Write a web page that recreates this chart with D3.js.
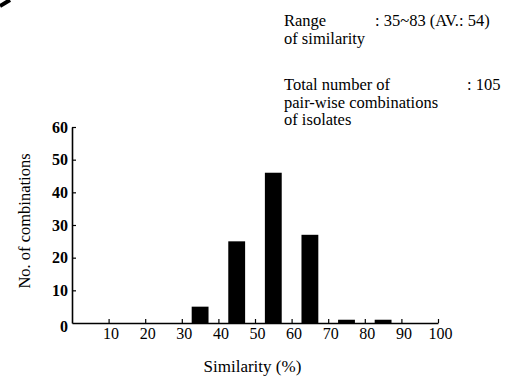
<!DOCTYPE html>
<html>
<head>
    <title>similarity histogram</title>
    <script src="https://d3js.org/d3.v7.min.js"></script>
    <style>
        body { margin: 0; background: #fff; }
        text { font-family: "Liberation Serif", "Times New Roman", serif; fill: #000; }
    </style>
</head>
<body>
    <svg id="chart"></svg>
    <script>
        // bins (centre of each 10% class) and counts
        var binCentres = [35, 45, 55, 65, 75, 85];
        var counts = [5, 25, 46, 27, 1, 1];
        var xTicks = [10, 20, 30, 40, 50, 60, 70, 80, 90, 100];
        var yTicks = [0, 10, 20, 30, 40, 50, 60];
        var notes = [
            { lines: ["Range", "of similarity"], value: ": 35~83 (AV.: 54)" },
            { lines: ["Total number of", "pair-wise combinations", "of isolates"], value: ": 105" }
        ];

        var width = 507, height = 383;
        var margin = {top: 127, right: 69, bottom: 60, left: 72};

        var svg = d3.select("#chart")
            .attr("width", width)
            .attr("height", height);

        var x = d3.scaleLinear()
            .domain([0, 100])
            .range([margin.left, width - margin.right]);

        var y = d3.scaleLinear()
            .domain([0, 60])
            .range([height - margin.bottom, margin.top]);

        var barW = x(4.6) - x(0);

        // bars
        svg.append("g").selectAll("rect")
            .data(binCentres)
            .enter().append("rect")
            .attr("x", function(d) { return x(d) - barW / 2; })
            .attr("y", function(d, i) { return y(counts[i]); })
            .attr("width", barW)
            .attr("height", function(d, i) { return y(0) - y(counts[i]); })
            .attr("fill", "#000");

        // x axis, ticks pointing up
        var xAxis = d3.axisBottom(x)
            .tickValues(xTicks)
            .tickSizeInner(-4)
            .tickSizeOuter(0)
            .tickPadding(5);

        var gx = svg.append("g")
            .attr("transform", "translate(0," + y(0) + ")")
            .call(xAxis);
        gx.select(".domain").attr("stroke", "#000").attr("stroke-width", 1.6);
        gx.selectAll(".tick line").attr("stroke", "#000").attr("stroke-width", 1.2);
        gx.selectAll(".tick text")
            .attr("font-family", "Liberation Serif")
            .attr("font-size", 16)
            .attr("dx", 2);

        // y axis, ticks pointing right
        var yAxis = d3.axisLeft(y)
            .tickValues(yTicks)
            .tickSizeInner(-4)
            .tickSizeOuter(0)
            .tickPadding(4);

        var gy = svg.append("g")
            .attr("transform", "translate(" + x(0) + ",0)")
            .call(yAxis);
        gy.select(".domain").attr("stroke", "#000").attr("stroke-width", 1.6);
        gy.selectAll(".tick line").attr("stroke", "#000").attr("stroke-width", 1.2)
            .filter(function(d) { return d === 0; }).remove();
        gy.selectAll(".tick text")
            .attr("font-family", "Liberation Serif")
            .attr("font-size", 16)
            .attr("font-weight", "bold")
            .attr("dy", function(d) { return d === 0 ? "0.55em" : "0.32em"; });

        // axis titles
        svg.append("text")
            .attr("transform", "translate(30,221) rotate(-90)")
            .attr("text-anchor", "middle")
            .attr("font-size", 16.5)
            .text("No. of combinations");

        svg.append("text")
            .attr("x", x(49.3))
            .attr("y", 372)
            .attr("text-anchor", "middle")
            .attr("font-size", 17)
            .text("Similarity (%)");

        // notes at top right
        var noteTop = [26, 90];
        notes.forEach(function(n, k) {
            n.lines.forEach(function(line, j) {
                svg.append("text")
                    .attr("x", 284)
                    .attr("y", noteTop[k] + j * 17.5)
                    .attr("font-size", 16.5)
                    .text(line);
            });
            svg.append("text")
                .attr("x", k === 0 ? 375 : 467)
                .attr("y", noteTop[k])
                .attr("font-size", 16.5)
                .text(n.value);
        });

        // cut-off panel letter in the corner
        svg.append("path")
            .attr("d", "M0,6 Q5,3 10,0")
            .attr("stroke", "#000")
            .attr("stroke-width", 4)
            .attr("fill", "none");
    </script>
</body>
</html>
